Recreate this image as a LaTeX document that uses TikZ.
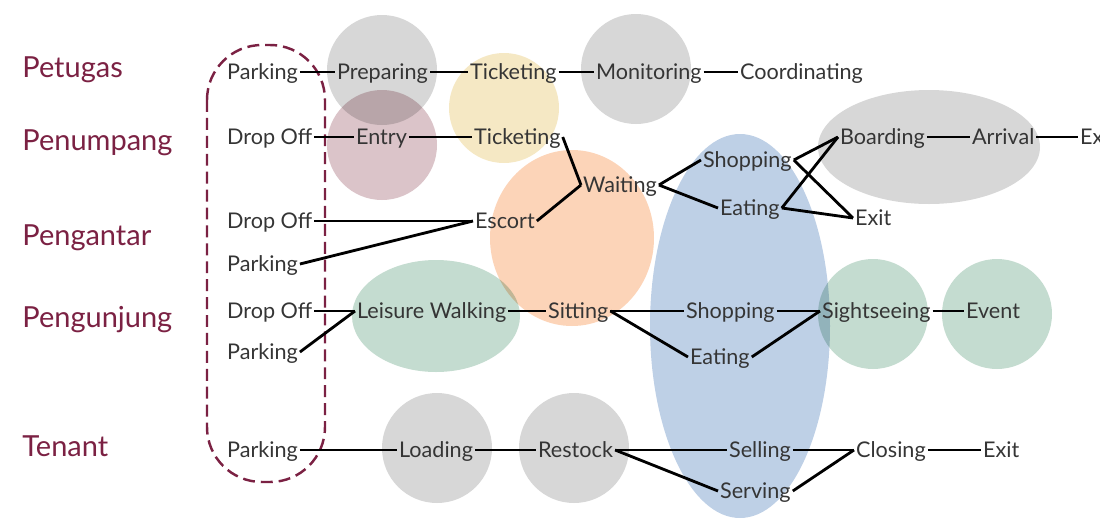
\documentclass[tikz,border=0pt]{standalone}
\usepackage{fontspec}
\setmainfont{Lato}
\usetikzlibrary{positioning}
\definecolor{rolecol}{HTML}{7B2143}
\definecolor{txtgray}{HTML}{353535}
\definecolor{blobgray}{RGB}{215,215,215}
\definecolor{blobrose}{RGB}{219,196,201}
\definecolor{blobsand}{RGB}{245,232,196}
\definecolor{bloborange}{RGB}{252,212,184}
\definecolor{blobblue}{RGB}{190,208,230}
\definecolor{blobgreen}{RGB}{196,220,208}
\tikzset{
  lbl/.style={anchor=west,inner sep=1pt,text=txtgray,font=\fontsize{12.3}{14}\selectfont,text height=2ex,text depth=0.4ex},
  role/.style={anchor=west,inner sep=0pt,text=rolecol,font=\fontsize{16.5}{19}\selectfont},
  link/.style={line width=1.6pt,black}
}
\begin{document}
\begin{tikzpicture}[x=0.02cm,y=-0.02cm]
\useasboundingbox (0,0) rectangle (1100,518);
\clip (0,0) rectangle (1100,518);

% Drawing circles behind the activities
\begin{scope}[blend group=multiply]
\fill[blobgray] (382,70) circle [radius=55];
\fill[blobrose] (382,145) circle [radius=55];
\fill[blobsand] (504,108) circle [radius=55];
\fill[blobgray] (636,69) circle [radius=55];
\fill[bloborange] (572,238) ellipse [x radius=82,y radius=88];
\fill[blobgreen] (436,316) ellipse [x radius=84,y radius=56];
\fill[blobblue] (740,326) ellipse [x radius=90,y radius=192];
\fill[blobgray] (929,147) ellipse [x radius=111,y radius=57];
\fill[blobgreen] (873,314) circle [radius=55];
\fill[blobgreen] (997,314) circle [radius=55];
\fill[blobgray] (437,448) circle [radius=55];
\fill[blobgray] (574,448) circle [radius=55];
\end{scope}

% Drawing the dashed box of arrivals
\draw[rolecol,line width=1.4pt,dash pattern=on 6.8pt off 3.4pt,rounded corners=1.1cm] (207,45) rectangle (325,482);

% Marking the roles
\node[role] (petugas) at (22,70) {Petugas};
\node[role] (penumpang) at (22,143) {Penumpang};
\node[role] (pengantar) at (22,238) {Pengantar};
\node[role] (pengunjung) at (22,320) {Pengunjung};
\node[role] (tenant) at (22,446) {Tenant};

% Row Petugas
\node[lbl] (ptPark) at (225,72) {Parking};
\node[lbl] (ptPrep) at (335,72) {Preparing};
\node[lbl] (ptTick) at (468,72) {Ticketing};
\node[lbl] (ptMon) at (594,72) {Monitoring};
\node[lbl] (ptCoord) at (738,72) {Coordinating};

% Row Penumpang
\node[lbl] (pnDrop) at (225,137) {Drop Off};
\node[lbl] (pnEntry) at (354,137) {Entry};
\node[lbl] (pnTick) at (472,137) {Ticketing};
\node[lbl] (pnWait) at (581,185) {Waiting};
\node[lbl] (pnShop) at (701,160) {Shopping};
\node[lbl] (pnEat) at (718,208) {Eating};
\node[lbl] (pnExit) at (853,218) {Exit};
\node[lbl] (pnBoard) at (838,137) {Boarding};
\node[lbl] (pnArr) at (970,137) {Arrival};
\node[lbl] (pnEx) at (1078,137) {Exit};

% Row Pengantar
\node[lbl] (paDrop) at (225,221) {Drop Off};
\node[lbl] (paPark) at (225,264) {Parking};
\node[lbl] (paEsc) at (473,221) {Escort};

% Row Pengunjung
\node[lbl] (pjDrop) at (225,311) {Drop Off};
\node[lbl] (pjPark) at (225,352) {Parking};
\node[lbl] (pjWalk) at (355,311) {Leisure Walking};
\node[lbl] (pjSit) at (546,311) {Sitting};
\node[lbl] (pjShop) at (684,311) {Shopping};
\node[lbl] (pjEat) at (688,357) {Eating};
\node[lbl] (pjSight) at (820,311) {Sightseeing};
\node[lbl] (pjEvent) at (964,311) {Event};

% Row Tenant
\node[lbl] (tnPark) at (225,450) {Parking};
\node[lbl] (tnLoad) at (397,450) {Loading};
\node[lbl] (tnRest) at (536,450) {Restock};
\node[lbl] (tnSell) at (727,450) {Selling};
\node[lbl] (tnServ) at (718,491) {Serving};
\node[lbl] (tnClose) at (854,450) {Closing};
\node[lbl] (tnExit) at (981,450) {Exit};

% Drawing lines Petugas
\draw[link] (ptPark.east) -- (ptPrep.west);
\draw[link] (ptPrep.east) -- (ptTick.west);
\draw[link] (ptTick.east) -- (ptMon.west);
\draw[link] (ptMon.east) -- (ptCoord.west);

% Drawing lines Penumpang
\draw[link] (pnDrop.east) -- (pnEntry.west);
\draw[link] (pnEntry.east) -- (pnTick.west);
\draw[link] (pnTick.east) -- (pnWait.west);
\draw[link] (pnWait.east) -- (pnShop.west);
\draw[link] (pnWait.east) -- (pnEat.west);
\draw[link] (pnShop.east) -- (pnBoard.west);
\draw[link] (pnShop.east) -- (pnExit.west);
\draw[link] (pnEat.east) -- (pnBoard.west);
\draw[link] (pnEat.east) -- (pnExit.west);
\draw[link] (pnBoard.east) -- (pnArr.west);
\draw[link] (pnArr.east) -- (pnEx.west);

% Drawing lines Pengantar
\draw[link] (paDrop.east) -- (paEsc.west);
\draw[link] (paPark.east) -- (paEsc.west);
\draw[link] (paEsc.east) -- (pnWait.west);

% Drawing lines Pengunjung
\draw[link] (pjDrop.east) -- (pjWalk.west);
\draw[link] (pjPark.east) -- (pjWalk.west);
\draw[link] (pjWalk.east) -- (pjSit.west);
\draw[link] (pjSit.east) -- (pjShop.west);
\draw[link] (pjSit.east) -- (pjEat.west);
\draw[link] (pjShop.east) -- (pjSight.west);
\draw[link] (pjEat.east) -- (pjSight.west);
\draw[link] (pjSight.east) -- (pjEvent.west);

% Drawing lines Tenant
\draw[link] (tnPark.east) -- (tnLoad.west);
\draw[link] (tnLoad.east) -- (tnRest.west);
\draw[link] (tnRest.east) -- (tnSell.west);
\draw[link] (tnRest.east) -- (tnServ.west);
\draw[link] (tnSell.east) -- (tnClose.west);
\draw[link] (tnServ.east) -- (tnClose.west);
\draw[link] (tnClose.east) -- (tnExit.west);
\end{tikzpicture}
\end{document}
